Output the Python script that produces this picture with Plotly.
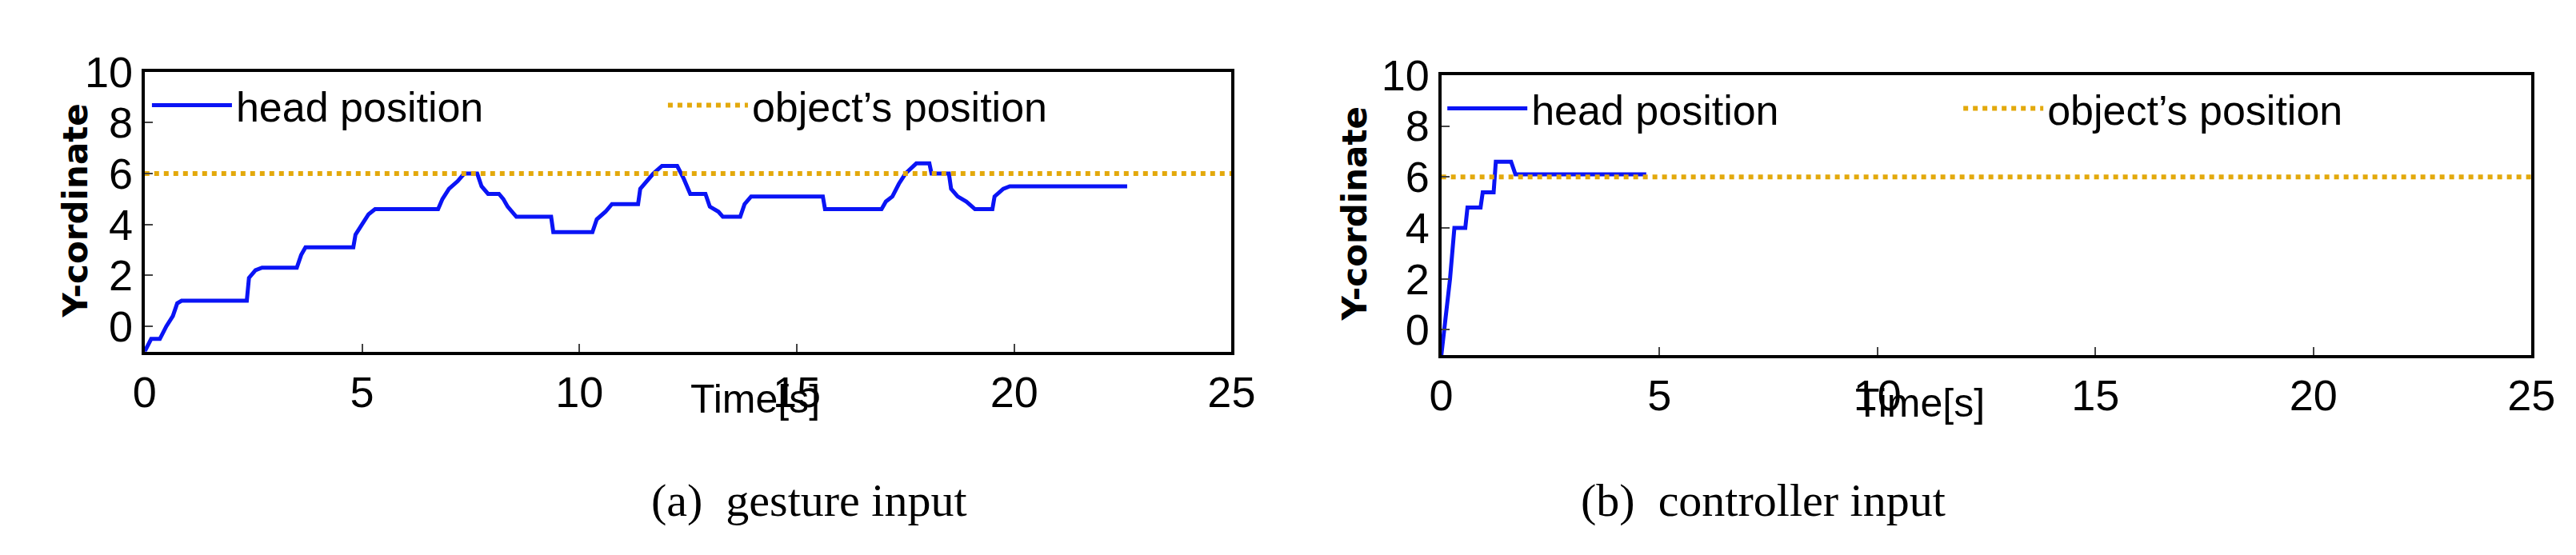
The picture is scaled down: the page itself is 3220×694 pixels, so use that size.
import plotly.graph_objects as go

# gesture input
t_a = [0,0.15,0.35,0.5,0.65,0.75,0.85,2.35,2.4,2.55,2.7,3.5,3.6,3.7,4.8,4.85,5.0,5.15,5.3,6.75,6.85,7.0,7.2,7.35,7.65,7.75,7.9,8.15,8.25,8.35,8.55,9.35,9.4,10.3,10.4,10.6,10.75,11.35,11.4,11.55,11.7,11.9,12.25,12.4,12.55,12.9,13.0,13.2,13.3,13.7,13.8,13.95,15.6,15.65,16.95,17.05,17.2,17.35,17.5,17.75,18.05,18.1,18.5,18.55,18.7,18.9,19.1,19.5,19.55,19.75,19.9,22.6]
y_a = [-1,-0.5,-0.5,0,0.4,0.9,1.0,1.0,1.9,2.2,2.3,2.3,2.8,3.1,3.1,3.6,4.0,4.4,4.6,4.6,5.0,5.4,5.7,6.0,6.0,5.5,5.2,5.2,5.0,4.7,4.3,4.3,3.7,3.7,4.2,4.5,4.8,4.8,5.4,5.7,6.0,6.3,6.3,5.8,5.2,5.2,4.7,4.5,4.3,4.3,4.8,5.1,5.1,4.6,4.6,4.9,5.1,5.6,6.0,6.4,6.4,6.0,6.0,5.4,5.1,4.9,4.6,4.6,5.1,5.4,5.5,5.5]
# controller input
t_b = [0,0.2,0.3,0.55,0.6,0.9,0.95,1.2,1.25,1.6,1.7,4.7]
y_b = [-1,2,4.0,4.0,4.8,4.8,5.4,5.4,6.6,6.6,6.1,6.1]
object_y = 6.0
x_range = [0, 25]
y_range = [-1, 10]
x_ticks = [0, 5, 10, 15, 20, 25]
y_ticks = [0, 2, 4, 6, 8, 10]

BLUE = "#0A14F5"
ORANGE = "#E3A90C"
NARROW = "Liberation Sans Narrow, Liberation Sans, Arial"

fig = go.Figure()
for i, (t, y, leg) in enumerate([(t_a, y_a, "legend"), (t_b, y_b, "legend2")]):
    xa = "x" if i == 0 else "x2"
    ya = "y" if i == 0 else "y2"
    fig.add_trace(go.Scatter(x=t, y=y, mode="lines", line=dict(color=BLUE, width=5),
                             name="head position", xaxis=xa, yaxis=ya, legend=leg))
    fig.add_trace(go.Scatter(x=x_range, y=[object_y, object_y], mode="lines",
                             line=dict(color=ORANGE, width=6, dash="dot"),
                             name="object\u2019s position", xaxis=xa, yaxis=ya, legend=leg))

ax = dict(range=x_range, tickvals=x_ticks, ticks="inside", ticklen=10, tickwidth=2,
          showline=True, linewidth=4, linecolor="black", mirror=True, showgrid=False,
          zeroline=False, tickfont=dict(family=NARROW, size=54, color="black"))
ay = dict(ax, range=y_range, tickvals=y_ticks)
legfont = dict(family=NARROW, size=52, color="black")
fig.update_layout(
    width=3220, height=694, margin=dict(l=0, r=0, t=0, b=0),
    paper_bgcolor="white", plot_bgcolor="white", showlegend=True,
    xaxis=dict(ax, domain=[0.0497, 0.4776], anchor="y"),
    yaxis=dict(ay, domain=[0.395, 0.922], anchor="x"),
    xaxis2=dict(ax, domain=[0.5602, 0.9894], anchor="y2"),
    yaxis2=dict(ay, domain=[0.388, 0.916], anchor="x2"),
    legend=dict(x=0.051, y=0.92, xanchor="left", yanchor="top", orientation="h",
                bgcolor="rgba(0,0,0,0)", font=legfont, entrywidth=530, itemwidth=100),
    legend2=dict(x=0.561, y=0.914, xanchor="left", yanchor="top", orientation="h",
                 bgcolor="rgba(0,0,0,0)", font=legfont, entrywidth=530, itemwidth=100),
)
ann = [
    dict(text="<b>Y-cordinate</b>", x=46, y=0.66, textangle=-90, fam="DejaVu Sans", size=42),
    dict(text="<b>Y-cordinate</b>", x=1694, y=0.655, textangle=-90, fam="DejaVu Sans", size=42),
    dict(text="Time[s]", x=850, y=1 - 513/694, fam=NARROW, size=50),
    dict(text="Time[s]", x=1600 + 895, y=1 - 518/694, fam=NARROW, size=50),
    dict(text="(a)\u2002gesture input", x=800, y=1 - 650/694, fam="Liberation Serif", size=58),
    dict(text="(b)\u2002controller input", x=1600 + 845, y=1 - 650/694, fam="Liberation Serif", size=58),
]
for a in ann:
    fig.add_annotation(text=a["text"], x=a["x"]/3220, y=a["y"], xref="paper", yref="paper",
                       showarrow=False, textangle=a.get("textangle", 0),
                       font=dict(family=a["fam"], size=a["size"], color="black"))

fig.write_html("out.html")
